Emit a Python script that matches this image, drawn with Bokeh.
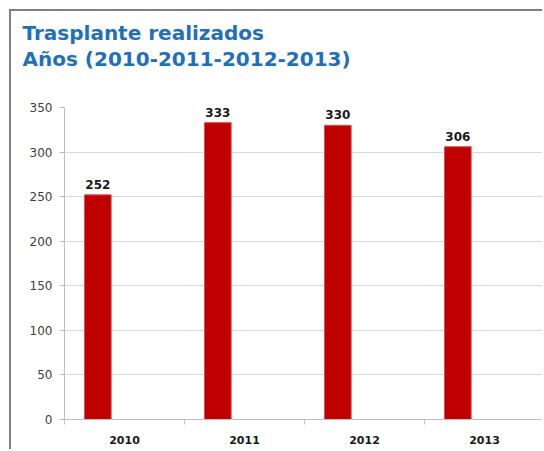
from bokeh.plotting import figure
from bokeh.models import (Range1d, FixedTicker, ColumnDataSource, LabelSet, Title)
from bokeh.core.properties import value
from bokeh.embed import file_html
from bokeh.resources import INLINE

years = ["2010", "2011", "2012", "2013"]
trasplantes = [252, 333, 330, 306]
y_ticks = [0, 50, 100, 150, 200, 250, 300, 350]
title_line1 = "Trasplante realizados"
title_line2 = "Años (2010-2011-2012-2013)"

# Excel-like clustered layout: 3 series slots, gap width 150%
slots = 3
gap = 1.5
bar_w = 1.0 / (slots + gap)
bar_offset = gap * bar_w / 2 + bar_w / 2

idx = list(range(len(years)))
src = ColumnDataSource(dict(
    x=[i + bar_offset for i in idx],
    top=trasplantes,
    label=[str(v) for v in trasplantes],
))

# canvas sits inside a grey top/left border starting at page (9, 9)
OFF = 11
W, H = 544 - OFF, 451 - OFF
p = figure(width=W, height=H, x_range=Range1d(0, len(years)), y_range=Range1d(0, 350),
           output_backend="svg", toolbar_location=None,
           min_border_left=64 - OFF, min_border_right=0, min_border_top=107 - OFF,
           min_border_bottom=451 - 419)
p.styles = {"margin-left": "9px", "margin-top": "9px",
            "border-left": "2px solid #7f7f7f", "border-top": "2px solid #7f7f7f"}
p.outline_line_color = None
p.background_fill_color = "white"
p.border_fill_color = "white"

p.vbar(x="x", top="top", width=bar_w, source=src, fill_color="#C00000",
       line_color="#E05050", line_width=1)

p.add_layout(LabelSet(x="x", y="top", text="label", source=src, text_align="center",
                      text_baseline="bottom", y_offset=6, text_font=value("DejaVu Sans"),
                      text_font_style="bold", text_font_size="12px", text_color="#1a1a1a"))

# y axis
p.yaxis.ticker = FixedTicker(ticks=y_ticks)
p.yaxis.axis_line_color = "#bfbfbf"
p.yaxis.major_tick_line_color = "#bfbfbf"
p.yaxis.major_tick_out = 5
p.yaxis.major_tick_in = 0
p.yaxis.minor_tick_line_color = None
p.yaxis.major_label_text_font = "DejaVu Sans"
p.yaxis.major_label_text_font_size = "12px"
p.yaxis.major_label_text_color = "#404040"
p.yaxis.major_label_standoff = 7

# x axis: ticks at category boundaries, labels at centers
p.xaxis.ticker = FixedTicker(ticks=[i + 0.5 for i in idx], minor_ticks=list(range(len(years) + 1)))
p.xaxis.major_label_overrides = {i + 0.5: y for i, y in zip(idx, years)}
p.xaxis.axis_line_color = "#bfbfbf"
p.xaxis.major_tick_line_color = None
p.xaxis.major_tick_out = 0
p.xaxis.major_tick_in = 0
p.xaxis.minor_tick_line_color = "#bfbfbf"
p.xaxis.minor_tick_out = 5
p.xaxis.minor_tick_in = 0
p.xaxis.major_label_text_font = "DejaVu Sans"
p.xaxis.major_label_text_font_style = "bold"
p.xaxis.major_label_text_font_size = "11px"
p.xaxis.major_label_text_color = "#1a1a1a"
p.xaxis.major_label_standoff = 11

p.xgrid.grid_line_color = None
p.ygrid.ticker = FixedTicker(ticks=y_ticks)
p.ygrid.grid_line_color = "#d9d9d9"

# titles (first added sits nearest the plot frame); a blank spacer keeps them high
title_style = dict(align="left", offset=22 - 64, text_font="DejaVu Sans",
                   text_font_style="bold", text_font_size="20px", text_color="#1f6fbf")
p.add_layout(Title(text=" ", standoff=11, **title_style), "above")
for txt in [title_line2, title_line1]:
    p.add_layout(Title(text=txt, standoff=0, **title_style), "above")

open("out.html", "w").write(file_html(p, INLINE))
